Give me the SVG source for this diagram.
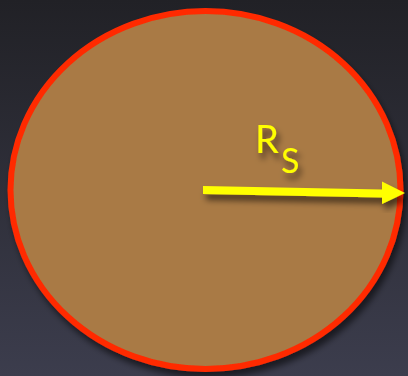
<svg xmlns="http://www.w3.org/2000/svg" width="408" height="376" viewBox="0 0 408 376">
  <defs>
    <linearGradient id="bg" x1="0" y1="0" x2="0" y2="1">
      <stop offset="0" stop-color="#212126"/>
      <stop offset="1" stop-color="#3c3d4d"/>
    </linearGradient>
    <filter id="shadow" x="-20%" y="-20%" width="150%" height="160%">
      <feGaussianBlur in="SourceAlpha" stdDeviation="3"/>
      <feOffset dx="3" dy="6" result="b"/>
      <feFlood flood-color="#000" flood-opacity="0.55"/>
      <feComposite in2="b" operator="in"/>
      <feMerge><feMergeNode/><feMergeNode in="SourceGraphic"/></feMerge>
    </filter>
    <style>
      .planet { fill: #a97a44; stroke: #ff2b00; stroke-width: 6; }
      .arrow { fill: #ffff00; }
      .label { fill: #ffff00; font-family: Lato, "DejaVu Sans", sans-serif; }
    </style>
  </defs>
  <rect width="408" height="376" fill="url(#bg)"/>
  <g id="planet">
    <ellipse class="planet" cx="205.5" cy="190" rx="195" ry="179" filter="url(#shadow)"/>
  </g>
  <g id="connectors">
    <path class="arrow" filter="url(#shadow)" d="M203,186 L382,189.5 L382,181.5 L405,193 L382,204 L382,197.5 L203,194 Z"/>
  </g>
  <g id="label" filter="url(#shadow)">
    <text class="label" x="255" y="153" font-size="38">R</text>
    <text class="label" x="281" y="173" font-size="34">S</text>
  </g>
</svg>
